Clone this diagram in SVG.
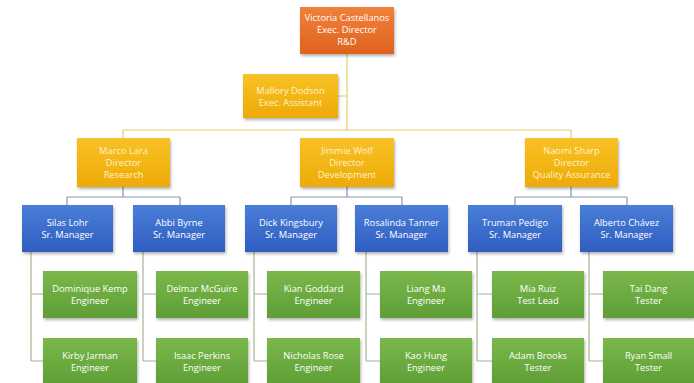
<svg xmlns="http://www.w3.org/2000/svg" width="694" height="383" viewBox="0 0 694 383">
<defs>
<linearGradient id="gO" x1="0" y1="0" x2="0" y2="1"><stop offset="0" stop-color="#F0813A"/><stop offset="1" stop-color="#E0621E"/></linearGradient>
<linearGradient id="gY" x1="0" y1="0" x2="0" y2="1"><stop offset="0" stop-color="#F8C226"/><stop offset="1" stop-color="#EDAA06"/></linearGradient>
<linearGradient id="gB" x1="0" y1="0" x2="0" y2="1"><stop offset="0" stop-color="#4A7ED8"/><stop offset="1" stop-color="#2F5EC0"/></linearGradient>
<linearGradient id="gG" x1="0" y1="0" x2="0" y2="1"><stop offset="0" stop-color="#7AB84C"/><stop offset="1" stop-color="#5E9E34"/></linearGradient>
<filter id="sh" x="-10%" y="-10%" width="125%" height="130%"><feDropShadow dx="1" dy="2" stdDeviation="1.5" flood-color="#000" flood-opacity="0.3"/></filter>
</defs>
<style>
rect{filter:url(#sh)}
.o{fill:url(#gO)} .y{fill:url(#gY)} .b{fill:url(#gB)} .g{fill:url(#gG)}
text{font-family:"Open Sans","Liberation Sans",sans-serif;font-size:9.3px;fill:#FFFFFF;text-anchor:middle}
.ty{fill:#FFF3CC}
.c1{fill:none;stroke:#E2CF6A;stroke-width:1.2}
.c2{fill:none;stroke:#8A96A6;stroke-width:1.2}
.c3{fill:none;stroke:#A8B490;stroke-width:1.2}
</style>
<rect width="694" height="383" fill="#FFFFFF" style="filter:none"/>
<g id="connectors">
<path class="c1" d="M347 54V130M338 96H347M123 130H571M123 130V138M571 130V138"/>
<path class="c2" d="M123 187V197M67 197H180M67 197V205M180 197V205M347 187V197M291 197H402M291 197V205M402 197V205M571 187V197M515 197H627M515 197V205M627 197V205"/>
<path class="c3" d="M31 252V361M31 294H43M31 361H43M143 252V361M143 294H156M143 361H156M254 252V361M254 294H267M254 361H267M366 252V361M366 294H380M366 361H380M477 252V361M477 294H492M477 361H492M589 252V361M589 294H603M589 361H603"/>
</g>
<g id="victoria"><rect class="o" x="300" y="7" width="94" height="47"/><text x="347" y="20.5">Victoria Castellanos</text><text x="347" y="32.5">Exec. Director</text><text x="347" y="44.5">R&amp;D</text></g>
<g id="mallory"><rect class="y" x="243" y="74" width="95" height="44"/><text class="ty" x="290.5" y="93.5">Mallory Dodson</text><text class="ty" x="290.5" y="105.5">Exec. Assistant</text></g>
<g id="marco"><rect class="y" x="77" y="138" width="93" height="49"/><text class="ty" x="123.5" y="153.5">Marco Lara</text><text class="ty" x="123.5" y="165.5">Director</text><text class="ty" x="123.5" y="177.5">Research</text></g>
<g id="jimmie"><rect class="y" x="300" y="138" width="94" height="49"/><text class="ty" x="347" y="153.5">Jimmie Wolf</text><text class="ty" x="347" y="165.5">Director</text><text class="ty" x="347" y="177.5">Development</text></g>
<g id="naomi"><rect class="y" x="525" y="138" width="93" height="49"/><text class="ty" x="571.5" y="153.5">Naomi Sharp</text><text class="ty" x="571.5" y="165.5">Director</text><text class="ty" x="571.5" y="177.5">Quality Assurance</text></g>
<g id="silas"><rect class="b" x="22" y="205" width="91" height="47"/><text x="67.5" y="225.5">Silas Lohr</text><text x="67.5" y="237.5">Sr. Manager</text></g>
<g id="abbi"><rect class="b" x="133" y="205" width="92" height="47"/><text x="179" y="225.5">Abbi Byrne</text><text x="179" y="237.5">Sr. Manager</text></g>
<g id="dick"><rect class="b" x="245" y="205" width="92" height="47"/><text x="291" y="225.5">Dick Kingsbury</text><text x="291" y="237.5">Sr. Manager</text></g>
<g id="rosalinda"><rect class="b" x="355" y="205" width="93" height="47"/><text x="401.5" y="225.5">Rosalinda Tanner</text><text x="401.5" y="237.5">Sr. Manager</text></g>
<g id="truman"><rect class="b" x="468" y="205" width="94" height="47"/><text x="515" y="225.5">Truman Pedigo</text><text x="515" y="237.5">Sr. Manager</text></g>
<g id="alberto"><rect class="b" x="580" y="205" width="93" height="47"/><text x="626.5" y="225.5">Alberto Chávez</text><text x="626.5" y="237.5">Sr. Manager</text></g>
<g id="dominique"><rect class="g" x="43" y="271" width="94" height="47"/><text x="90" y="291.5">Dominique Kemp</text><text x="90" y="304">Engineer</text></g>
<g id="kirby"><rect class="g" x="43" y="338" width="94" height="47"/><text x="90" y="358.5">Kirby Jarman</text><text x="90" y="371">Engineer</text></g>
<g id="delmar"><rect class="g" x="156" y="271" width="92" height="47"/><text x="202" y="291.5">Delmar McGuire</text><text x="202" y="304">Engineer</text></g>
<g id="isaac"><rect class="g" x="156" y="338" width="92" height="47"/><text x="202" y="358.5">Isaac Perkins</text><text x="202" y="371">Engineer</text></g>
<g id="kian"><rect class="g" x="267" y="271" width="93" height="47"/><text x="313.5" y="291.5">Kian Goddard</text><text x="313.5" y="304">Engineer</text></g>
<g id="nicholas"><rect class="g" x="267" y="338" width="93" height="47"/><text x="313.5" y="358.5">Nicholas Rose</text><text x="313.5" y="371">Engineer</text></g>
<g id="liang"><rect class="g" x="380" y="271" width="92" height="47"/><text x="426" y="291.5">Liang Ma</text><text x="426" y="304">Engineer</text></g>
<g id="kao"><rect class="g" x="380" y="338" width="92" height="47"/><text x="426" y="358.5">Kao Hung</text><text x="426" y="371">Engineer</text></g>
<g id="mia"><rect class="g" x="492" y="271" width="92" height="47"/><text x="538" y="291.5">Mia Ruiz</text><text x="538" y="304">Test Lead</text></g>
<g id="adam"><rect class="g" x="492" y="338" width="92" height="47"/><text x="538" y="358.5">Adam Brooks</text><text x="538" y="371">Tester</text></g>
<g id="tai"><rect class="g" x="603" y="271" width="91" height="47"/><text x="648.5" y="291.5">Tai Dang</text><text x="648.5" y="304">Tester</text></g>
<g id="ryan"><rect class="g" x="603" y="338" width="91" height="47"/><text x="648.5" y="358.5">Ryan Small</text><text x="648.5" y="371">Tester</text></g>
</svg>
